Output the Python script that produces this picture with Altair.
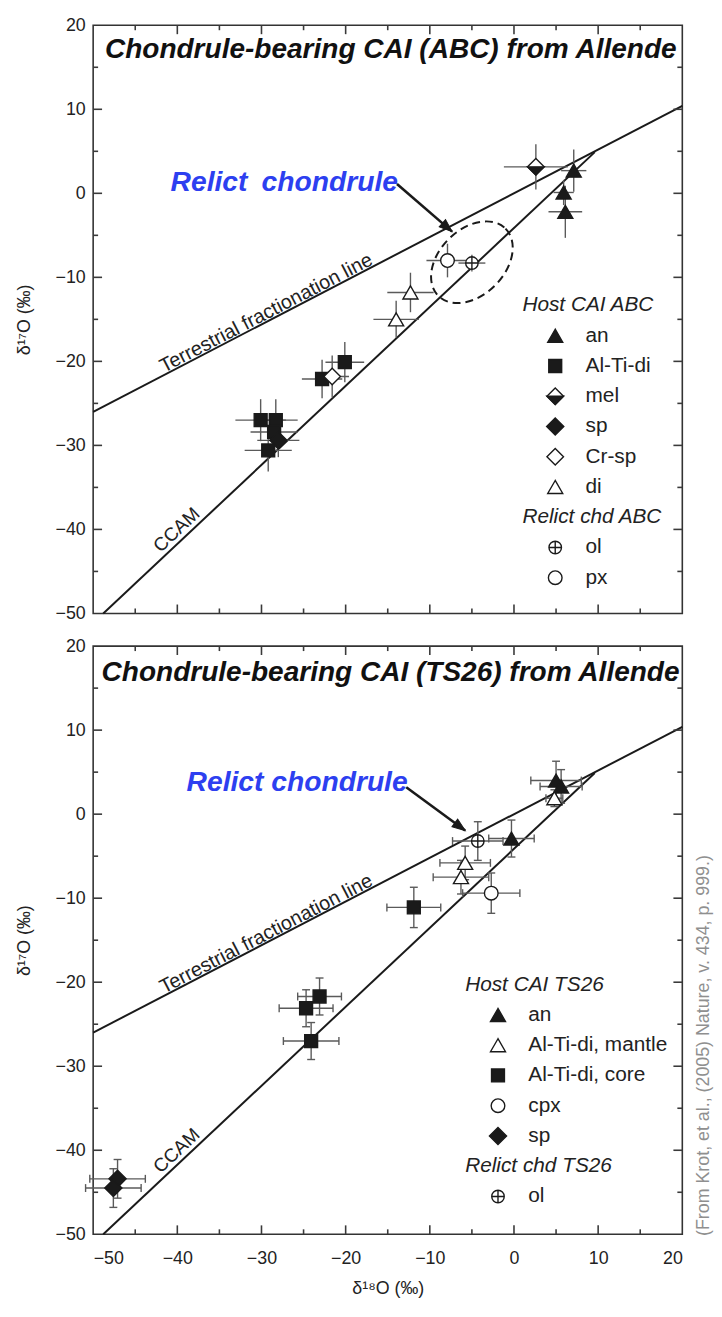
import math
import altair as alt
import pandas as pd

W, H = 595, 594
XMIN, XMAX, YMIN, YMAX = -50, 20, -50, 20
FONT = "Liberation Sans"
INK = "#1a1a1a"
BAR = "#5a5a5a"
BLUE = "#2d3ff0"

AX_VALS = [-50, -40, -30, -20, -10, 0, 10, 20]
MAJOR_TICKS = [-40, -30, -20, -10, 0, 10]
MINOR_TICKS = [-45, -35, -25, -15, -5, 5, 15]

# reference lines
tfl_x = [-50.0, 20.0]
tfl_y = [-26.0, 10.4]
ccam_x = [-48.8, 9.6]
ccam_y = [-50.0, 4.9]

# ---------------- panel 1 : ABC ----------------
abc_phase = ["an", "an", "an",
             "Al-Ti-di", "Al-Ti-di", "Al-Ti-di", "Al-Ti-di", "Al-Ti-di", "Al-Ti-di",
             "mel", "sp", "Cr-sp", "di", "di", "ol", "px"]
abc_d18 = [7.1, 5.9, 6.1, -20.1, -22.8, -30.1, -28.3, -28.5, -29.2, 2.6, -28.0, -21.6, -12.3, -14.0, -5.0, -7.9]
abc_d17 = [2.7, 0.1, -2.2, -20.1, -22.1, -27.0, -27.0, -28.4, -30.6, 3.15, -29.4, -21.8, -11.8, -15.0, -8.3, -8.0]
abc_e18 = [1.5, 1.2, 2.0, 2.3, 2.4, 3.0, 2.6, 2.8, 2.8, 3.8, 2.5, 2.0, 2.75, 2.7, 1.6, 2.5]
abc_e17 = [2.5, 1.5, 3.1, 2.4, 2.3, 2.5, 2.5, 2.0, 2.5, 2.7, 2.0, 2.5, 2.35, 2.2, 1.0, 2.0]
abc_style = {"an": "tri_f", "Al-Ti-di": "sq_f", "mel": "dia_half", "sp": "dia_f",
             "Cr-sp": "dia_o", "di": "tri_o", "ol": "cplus", "px": "circ_o"}
abc_legend = ["Host CAI ABC", "an", "Al-Ti-di", "mel", "sp", "Cr-sp", "di",
              "Relict chd ABC", "ol", "px"]
abc_legend_origin = (1.0, -13.35)
abc_title = "Chondrule-bearing CAI (ABC) from Allende"
abc_title_pos = (-48.6, 16.1)
abc_relict = "Relict\u2002chondrule"
abc_relict_pos = (-40.8, 0.3)
abc_arrow = (-13.9, 1.1, -7.35, -4.56)
abc_ellipse = (-5.0, -8.2)

# ---------------- panel 2 : TS26 ----------------
ts_phase = ["an", "an", "an",
            "Al-Ti-di, mantle", "Al-Ti-di, mantle", "Al-Ti-di, mantle",
            "Al-Ti-di, core", "Al-Ti-di, core", "Al-Ti-di, core", "Al-Ti-di, core",
            "cpx", "sp", "sp", "ol"]
ts_d18 = [5.0, 5.6, -0.3, -5.8, -6.3, 4.8, -11.9, -23.1, -24.7, -24.1, -2.7, -47.1, -47.6, -4.3]
ts_d17 = [4.0, 3.3, -2.9, -5.8, -7.5, 1.9, -11.1, -21.7, -23.1, -27.0, -9.4, -43.4, -44.5, -3.2]
ts_e18 = [3.0, 2.5, 2.7, 3.0, 3.3, 1.0, 3.2, 2.6, 3.2, 3.3, 3.4, 3.3, 3.3, 3.0]
ts_e17 = [2.3, 2.0, 2.2, 2.0, 2.0, 1.0, 2.4, 2.2, 2.2, 2.2, 2.4, 2.3, 2.3, 2.3]
ts_style = {"an": "tri_f", "Al-Ti-di, mantle": "tri_o", "Al-Ti-di, core": "sq_f",
            "cpx": "circ_o", "sp": "dia_f", "ol": "cplus"}
ts_legend = ["Host CAI TS26", "an", "Al-Ti-di, mantle", "Al-Ti-di, core", "cpx", "sp",
             "Relict chd TS26", "ol"]
ts_legend_origin = (-5.8, -20.3)
ts_title = "Chondrule-bearing CAI (TS26) from Allende"
ts_title_pos = (-49.0, 15.9)
ts_relict = "Relict chondrule"
ts_relict_pos = (-38.9, 2.8)
ts_arrow = (-12.8, 3.2, -5.8, -1.95)

credit_text = "(From Krot, et al., (2005) Nature, v. 434, p. 999.)"
credit_pos = (22.6, -50.2)

LEG_STEP = 3.6
LEG_SYM_DX = 3.9
LEG_LAB_DX = 7.5

MAJOR_LEN = 9   # px
MINOR_LEN = 5   # px

# ---------------- marker shapes ----------------
K = 0.5523


def ell_path(rx, ry):
    return (f"M0,{-ry}C{K*rx},{-ry},{rx},{-K*ry},{rx},0"
            f"C{rx},{K*ry},{K*rx},{ry},0,{ry}"
            f"C{-K*rx},{ry},{-rx},{K*ry},{-rx},0"
            f"C{-rx},{-K*ry},{-K*rx},{-ry},0,{-ry}Z")


CIRCLE_PLUS = ell_path(1, 1) + "M-1,0L1,0M0,-1L0,1"
HALF_LOW = "M-1,0L1,0L0,1Z"
ELLIPSE = ell_path(0.69, 1)
HEAD = "M0,0L-2,-0.75L-2,0.75Z"

STYLES = {
    "tri_f": [dict(shape="triangle-up", fill=INK, size=230)],
    "tri_o": [dict(shape="triangle-up", fill="white", size=230)],
    "sq_f": [dict(shape="square", fill=INK, size=170)],
    "dia_f": [dict(shape="diamond", fill=INK, size=300)],
    "dia_o": [dict(shape="diamond", fill="white", size=280)],
    "dia_half": [dict(shape="diamond", fill="white", size=280),
                 dict(shape=HALF_LOW, fill=INK, size=280)],
    "circ_o": [dict(shape="circle", fill="white", size=190)],
    "cplus": [dict(shape=CIRCLE_PLUS, fill="white", size=160)],
}

xs = alt.Scale(domain=[XMIN, XMAX], nice=False, zero=False)
ys = alt.Scale(domain=[YMIN, YMAX], nice=False, zero=False)
X_PER = W / (XMAX - XMIN)
Y_PER = H / (YMAX - YMIN)


def line_angle(x, y):
    a = math.degrees(math.atan2((y[1] - y[0]) * Y_PER, (x[1] - x[0]) * X_PER))
    return 360 - a


def tick_frame():
    """Inward ticks on all four edges, as segments in data space."""
    rows = []
    for vals, ln in ((MAJOR_TICKS, MAJOR_LEN), (MINOR_TICKS, MINOR_LEN)):
        dy = ln / Y_PER
        dx = ln / X_PER
        for v in vals:
            rows.append(dict(tx=v, tx2=v, ty=YMAX, ty2=YMAX - dy))
            rows.append(dict(tx=v, tx2=v, ty=YMIN, ty2=YMIN + dy))
            rows.append(dict(tx=XMIN, tx2=XMIN + dx, ty=v, ty2=v))
            rows.append(dict(tx=XMAX, tx2=XMAX - dx, ty=v, ty2=v))
    return pd.DataFrame(rows)


def panel(phase, d18, d17, e18, e17, style_map, legend, leg_origin, title, title_pos,
          relict, relict_pos, arrow, ellipse=None, bottom=False, caps=False, credit=False):
    xax = (alt.Axis(values=AX_VALS, labelPadding=16, title="δ¹⁸O (‰)", titlePadding=12)
           if bottom else None)
    yax = alt.Axis(values=AX_VALS, labelPadding=8, title="δ¹⁷O (‰)", titlePadding=22)

    def X(f):
        return alt.X(f, type="quantitative", scale=xs, axis=xax)

    def Y(f):
        return alt.Y(f, type="quantitative", scale=ys, axis=yax)

    layers = []

    # reference lines
    lines = pd.DataFrame({"x": tfl_x + ccam_x, "y": tfl_y + ccam_y,
                          "line": ["tfl"] * 2 + ["ccam"] * 2})
    layers.append(alt.Chart(lines).mark_line(color=INK, strokeWidth=2).encode(
        x=X("x"), y=Y("y"), detail="line:N"))

    # inward frame ticks
    layers.append(alt.Chart(tick_frame()).mark_rule(color="#3a3a3a", strokeWidth=1.6).encode(
        x=X("tx"), x2="tx2", y=Y("ty"), y2="ty2"))

    # data points
    pts = pd.DataFrame({"phase": phase, "x": d18, "y": d17, "xe": e18, "ye": e17})
    pts["style"] = pts["phase"].map(style_map)
    pts["xlo"] = pts["x"] - pts["xe"]
    pts["xhi"] = pts["x"] + pts["xe"]
    pts["ylo"] = pts["y"] - pts["ye"]
    pts["yhi"] = pts["y"] + pts["ye"]

    eb = alt.Chart(pts)
    layers.append(eb.mark_rule(color=BAR, strokeWidth=1.4).encode(
        x=X("xlo"), x2="xhi", y=Y("y")))
    layers.append(eb.mark_rule(color=BAR, strokeWidth=1.4).encode(
        x=X("x"), y=Y("ylo"), y2="yhi"))
    if caps:
        cs = dict(color=BAR, thickness=1.4, size=8, opacity=1)
        layers.append(eb.mark_tick(orient="vertical", **cs).encode(x=X("xlo"), y=Y("y")))
        layers.append(eb.mark_tick(orient="vertical", **cs).encode(x=X("xhi"), y=Y("y")))
        layers.append(eb.mark_tick(orient="horizontal", **cs).encode(x=X("x"), y=Y("ylo")))
        layers.append(eb.mark_tick(orient="horizontal", **cs).encode(x=X("x"), y=Y("yhi")))

    # legend rows (positions from a row index)
    lx0, ly0 = leg_origin
    rows = []
    for i, lab in enumerate(legend):
        yy = ly0 - LEG_STEP * i
        if lab in style_map:
            rows.append(dict(kind="item", label=lab, style=style_map[lab],
                             sx=lx0 + LEG_SYM_DX, lx=lx0 + LEG_LAB_DX, y=yy))
        else:
            rows.append(dict(kind="head", label=lab, style="", sx=lx0, lx=lx0, y=yy))
    leg = pd.DataFrame(rows)
    items = leg[leg.kind == "item"].rename(columns={"sx": "x"})[["x", "y", "style"]]
    allsym = pd.concat([pts[["x", "y", "style"]], items], ignore_index=True)

    for key, parts in STYLES.items():
        if key not in set(allsym["style"]):
            continue
        sub = allsym[allsym["style"] == key]
        for p in parts:
            layers.append(alt.Chart(sub).mark_point(
                shape=p["shape"], size=p["size"], filled=True, fill=p["fill"],
                stroke=INK, strokeWidth=1.4, opacity=1, fillOpacity=1).encode(
                x=X("x"), y=Y("y")))

    layers.append(alt.Chart(leg[leg.kind == "head"]).mark_text(
        font=FONT, fontSize=21, fontStyle="italic", align="left", baseline="middle",
        color="#222").encode(x=X("lx"), y=Y("y"), text="label:N"))
    layers.append(alt.Chart(leg[leg.kind == "item"]).mark_text(
        font=FONT, fontSize=21, align="left", baseline="middle",
        color="#222").encode(x=X("lx"), y=Y("y"), text="label:N"))

    # ellipse around relict chondrule
    if ellipse is not None:
        ed = pd.DataFrame({"x": [ellipse[0]], "y": [ellipse[1]]})
        layers.append(alt.Chart(ed).mark_point(
            shape=ELLIPSE, size=96 ** 2, filled=False, stroke=INK, strokeWidth=2,
            strokeDash=[8, 5], angle=45, opacity=1).encode(x=X("x"), y=Y("y")))

    # arrow
    ad = pd.DataFrame({"x": [arrow[0]], "y": [arrow[1]], "x2": [arrow[2]], "y2": [arrow[3]]})
    layers.append(alt.Chart(ad).mark_rule(color=INK, strokeWidth=2.6).encode(
        x=X("x"), y=Y("y"), x2="x2", y2="y2"))
    layers.append(alt.Chart(ad).transform_calculate(
        ang=f"atan2((datum.y - datum.y2) * {Y_PER}, (datum.x2 - datum.x) * {X_PER}) * 180 / PI"
    ).mark_point(shape=HEAD, size=169, filled=True, fill=INK, stroke=INK, strokeWidth=1,
                 opacity=1).encode(x=X("x2"), y=Y("y2"), angle=alt.Angle("ang:Q", scale=None)))

    # texts
    td = pd.DataFrame({"x": [title_pos[0]], "y": [title_pos[1]], "t": [title]})
    layers.append(alt.Chart(td).mark_text(
        font=FONT, fontSize=28.3, fontWeight="bold", fontStyle="italic", align="left",
        baseline="alphabetic", color="#111").encode(x=X("x"), y=Y("y"), text="t:N"))
    rd = pd.DataFrame({"x": [relict_pos[0]], "y": [relict_pos[1]], "t": [relict]})
    layers.append(alt.Chart(rd).mark_text(
        font=FONT, fontSize=28.5, fontWeight="bold", fontStyle="italic", align="left",
        baseline="alphabetic", color=BLUE).encode(x=X("x"), y=Y("y"), text="t:N"))

    ld1 = pd.DataFrame({"x": [-29.0], "y": [-15.1], "t": ["Terrestrial fractionation line"]})
    layers.append(alt.Chart(ld1).mark_text(
        font=FONT, fontSize=20, align="center", baseline="alphabetic", dy=-2,
        angle=line_angle(tfl_x, tfl_y), color="#222").encode(x=X("x"), y=Y("y"), text="t:N"))
    ld2 = pd.DataFrame({"x": [-39.2], "y": [-41.0], "t": ["CCAM"]})
    layers.append(alt.Chart(ld2).mark_text(
        font=FONT, fontSize=19, align="center", baseline="alphabetic", dy=-5,
        angle=line_angle(ccam_x, ccam_y), color="#222").encode(x=X("x"), y=Y("y"), text="t:N"))

    if credit:
        cd = pd.DataFrame({"x": [credit_pos[0]], "y": [credit_pos[1]], "t": [credit_text]})
        layers.append(alt.Chart(cd).mark_text(
            font=FONT, fontSize=18, align="left", baseline="middle", angle=270,
            color="#8f8f8f").encode(x=X("x"), y=Y("y"), text="t:N"))

    return alt.layer(*layers).properties(width=W, height=H)


top = panel(abc_phase, abc_d18, abc_d17, abc_e18, abc_e17, abc_style, abc_legend,
            abc_legend_origin, abc_title, abc_title_pos, abc_relict, abc_relict_pos,
            abc_arrow, ellipse=abc_ellipse)
bottom = panel(ts_phase, ts_d18, ts_d17, ts_e18, ts_e17, ts_style, ts_legend,
               ts_legend_origin, ts_title, ts_title_pos, ts_relict, ts_relict_pos,
               ts_arrow, bottom=True, caps=True, credit=True)

chart = alt.vconcat(top, bottom, spacing=33, bounds="flush").properties(
    padding={"left": 6, "top": 1, "right": 0, "bottom": 2},
    background="white",
).configure_view(stroke="#333", strokeWidth=1.6).configure_axis(
    labelFont=FONT, labelFontSize=18, labelColor="#222",
    titleFont=FONT, titleFontSize=18, titleFontWeight="normal", titleColor="#222",
    ticks=False, domain=False, grid=False,
)

chart.save("out.html", embed_options={"renderer": "svg", "actions": False})
